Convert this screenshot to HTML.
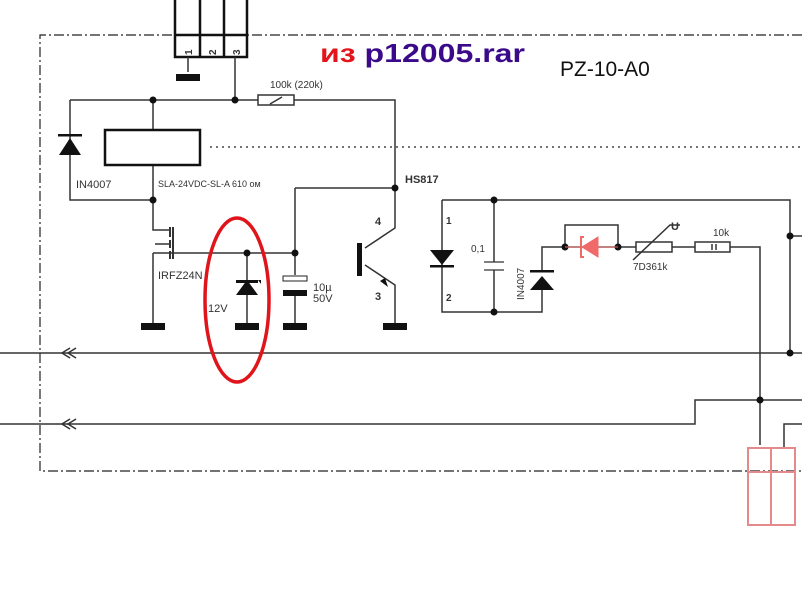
<!DOCTYPE html>
<html><head><meta charset="utf-8"><style>body{margin:0;background:#fff}svg{display:block}</style></head><body>
<svg width="802" height="608" viewBox="0 0 802 608" xmlns="http://www.w3.org/2000/svg" font-family="Liberation Sans, sans-serif">
<rect width="802" height="608" fill="#fff"/>
<g fill="none" stroke="#222" stroke-width="1.2">
<path d="M802 35H40V471H802" stroke-dasharray="10,3,2,3"/>
<path d="M210 147H802" stroke-dasharray="2,4"/>
</g>
<g fill="none" stroke="#333" stroke-width="1.5">
<path d="M175 0V57H247V0M200 0V57M224 0V57M175 35H247" stroke-width="2.5" stroke="#111"/>
<path d="M188 57V72M235 57V100"/>
<path d="M70 100H258M294 100H395V188M258 95h36v10h-36z M270 104l12-7"/>
<path d="M153 100V130M153 165V200M70 100V200H153"/>
<rect x="105" y="130" width="95" height="35" stroke-width="2.5" stroke="#111"/>
<path d="M153 200V230H170M153 253H295M153 253V325"/>
<path d="M170 227v10M170 240v8M170 251v8M173 227v32" stroke-width="2"/>
<path d="M155 244h14"/>
<path d="M295 188H395M295 188V275M295 290V325"/>
<path d="M247 253V325"/>
<path d="M395 188V228L365 248M365 265L395 285V325"/>
<path d="M442 200H790V353M442 200V312H542V290M494 200V262M494 270V312"/>
<path d="M542 270V247H636M672 247H695M730 247H760V445"/>
<path d="M565 247V225H618V247"/>
<path d="M636 242h36v10h-36z M695 242h35v10h-35z M712 244v6M716 244v6"/>
<path d="M633 260L670 225H680"/>
<path d="M0 353H802M0 424H695V400H802M784 448V424H802M790 236H802"/>
<path d="M484 262h20M484 270h20" stroke-width="1.2"/>
<path d="M70 65l-8 5 8 5M76 65l-8 5 8 5" transform="translate(0,283)"/>
<path d="M70 65l-8 5 8 5M76 65l-8 5 8 5" transform="translate(0,354)"/>
</g>
<g fill="#111">
<rect x="176" y="74" width="24" height="7"/>
<rect x="141" y="323" width="24" height="7"/><rect x="235" y="323" width="24" height="7"/>
<rect x="283" y="323" width="24" height="7"/><rect x="383" y="323" width="24" height="7"/>
<rect x="283" y="290" width="24" height="6"/>
<rect x="283" y="276" width="24" height="5" fill="#fff" stroke="#222"/>
<rect x="357" y="243" width="5" height="33"/>
<circle cx="153" cy="100" r="3.5"/><circle cx="235" cy="100" r="3.5"/><circle cx="153" cy="200" r="3.5"/>
<circle cx="395" cy="188" r="3.5"/><circle cx="295" cy="253" r="3.5"/><circle cx="247" cy="253" r="3.5"/>
<circle cx="494" cy="200" r="3.5"/><circle cx="494" cy="312" r="3.5"/><circle cx="565" cy="247" r="3.5"/>
<circle cx="618" cy="247" r="3.5"/><circle cx="790" cy="236" r="3.5"/><circle cx="790" cy="353" r="3.5"/><circle cx="760" cy="400" r="3.5"/>
<path d="M59 155L81 155L70 138Z"/><rect x="58" y="134" width="24" height="2.5"/>
<path d="M236 295H258L247 280Z"/><path d="M236 280H258V283H236Z"/><path d="M258 280l3 4v-4z"/>
<path d="M430 250H454L442 265Z"/><rect x="430" y="265" width="24" height="2.5"/>
<path d="M530 290H554L542 276Z"/><rect x="530" y="270" width="24" height="2.5"/>
<path d="M388 287l-8-6 5-3z"/>
</g>
<g fill="#f06a6a" stroke="#f06a6a">
<path d="M598 237V257L582 247Z"/><path d="M584 237h-3v20h3" fill="none" stroke-width="2"/>
<path d="M565 247H618" stroke-width="1" fill="none"/>
</g>
<g fill="none" stroke="#e58a8a" stroke-width="2">
<rect x="748" y="448" width="47" height="77"/><path d="M748 472H795M771 448V525"/>
</g>
<ellipse cx="237" cy="300" rx="32" ry="82" fill="none" stroke="#e0141b" stroke-width="3.5"/>
<g font-size="10" fill="#333">
<text x="183" y="54" font-size="10" font-weight="bold" transform="rotate(-90 188 50)">1</text>
<text x="207" y="54" font-size="10" font-weight="bold" transform="rotate(-90 212 50)">2</text>
<text x="231" y="54" font-size="10" font-weight="bold" transform="rotate(-90 236 50)">3</text>
<text x="270" y="88">100k (220k)</text>
<text x="76" y="188" font-size="11">IN4007</text>
<text x="158" y="187" font-size="9">SLA-24VDC-SL-A  610 ом</text>
<text x="158" y="279" font-size="11">IRFZ24N</text>
<text x="208" y="312" font-size="11">12V</text>
<text x="313" y="291" font-size="11">10µ</text><text x="313" y="302" font-size="11">50V</text>
<text x="405" y="183" font-weight="bold" font-size="11">HS817</text>
<text x="375" y="225" font-weight="bold" font-size="11">4</text>
<text x="375" y="300" font-weight="bold" font-size="11">3</text>
<text x="446" y="224" font-weight="bold" font-size="10">1</text>
<text x="446" y="301" font-weight="bold" font-size="10">2</text>
<text x="471" y="252" font-size="10">0,1</text>
<text x="524" y="300" font-size="10" transform="rotate(-90 524 300)">IN4007</text>
<text x="633" y="270" font-size="10">7D361k</text>
<text x="671" y="230" font-weight="bold" font-size="11">U</text>
<text x="713" y="236" font-size="10">10k</text>
</g>
<text x="320" y="62" font-size="26" font-weight="bold" textLength="205" lengthAdjust="spacingAndGlyphs"><tspan fill="#e3141b">из </tspan><tspan fill="#3a0a8a">p12005.rar</tspan></text>
<text x="560" y="76" font-size="21" fill="#111">PZ-10-A0</text>
</svg>
</body></html>
